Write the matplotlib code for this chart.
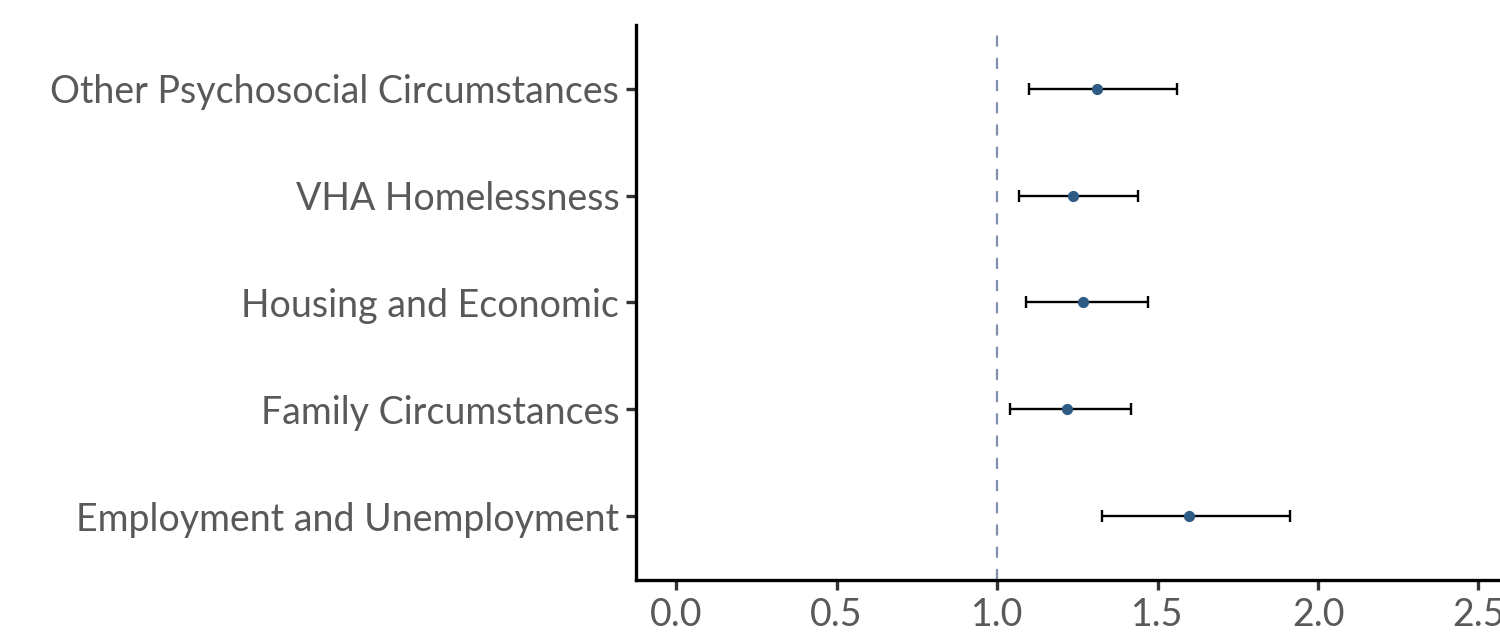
import matplotlib
matplotlib.use("Agg")
import matplotlib.pyplot as plt

# Odds ratios with 95% confidence intervals by social-determinant category
categories = [
    "Employment and Unemployment",
    "Family Circumstances",
    "Housing and Economic",
    "VHA Homelessness",
    "Other Psychosocial Circumstances",
]
estimate = [1.598, 1.218, 1.268, 1.237, 1.311]
ci_low = [1.327, 1.040, 1.090, 1.069, 1.100]
ci_high = [1.913, 1.417, 1.470, 1.439, 1.561]
xticks = [0.0, 0.5, 1.0, 1.5, 2.0, 2.5]
xtick_labels = ["0.0", "0.5", "1.0", "1.5", "2.0", "2.5"]

plt.rcParams["font.family"] = ["Lato", "DejaVu Sans"]

fig = plt.figure(figsize=(15, 6.34), dpi=100)
ax = fig.add_axes([0.424, 0.085, 0.576, 0.876])

ypos = list(range(1, len(categories) + 1))
err_lo = [e - l for e, l in zip(estimate, ci_low)]
err_hi = [h - e for e, h in zip(estimate, ci_high)]

ax.axvline(1.0, color="#7f8fab", linestyle=(0, (5, 5)), linewidth=1.6, zorder=1)
ax.errorbar(estimate, ypos, xerr=[err_lo, err_hi], fmt="none",
            ecolor="black", elinewidth=1.7, capsize=4, capthick=1.7, zorder=2)
ax.scatter(estimate, ypos, s=65, color="#2e5b84", zorder=3, linewidths=0)

ax.set_xlim(-0.125, 2.567)
ax.set_ylim(0.4, 5.6)
ax.set_yticks(ypos)
ax.set_yticklabels(categories)
ax.set_xticks(xticks)
ax.set_xticklabels(xtick_labels)

for side in ("top", "right"):
    ax.spines[side].set_visible(False)
for side in ("left", "bottom"):
    ax.spines[side].set_linewidth(2.4)
    ax.spines[side].set_color("black")

ax.tick_params(axis="both", length=7, width=2.4, color="#333333",
               labelsize=27, labelcolor="#595959", pad=5)

fig.savefig("out.png", dpi=100, facecolor="white")
